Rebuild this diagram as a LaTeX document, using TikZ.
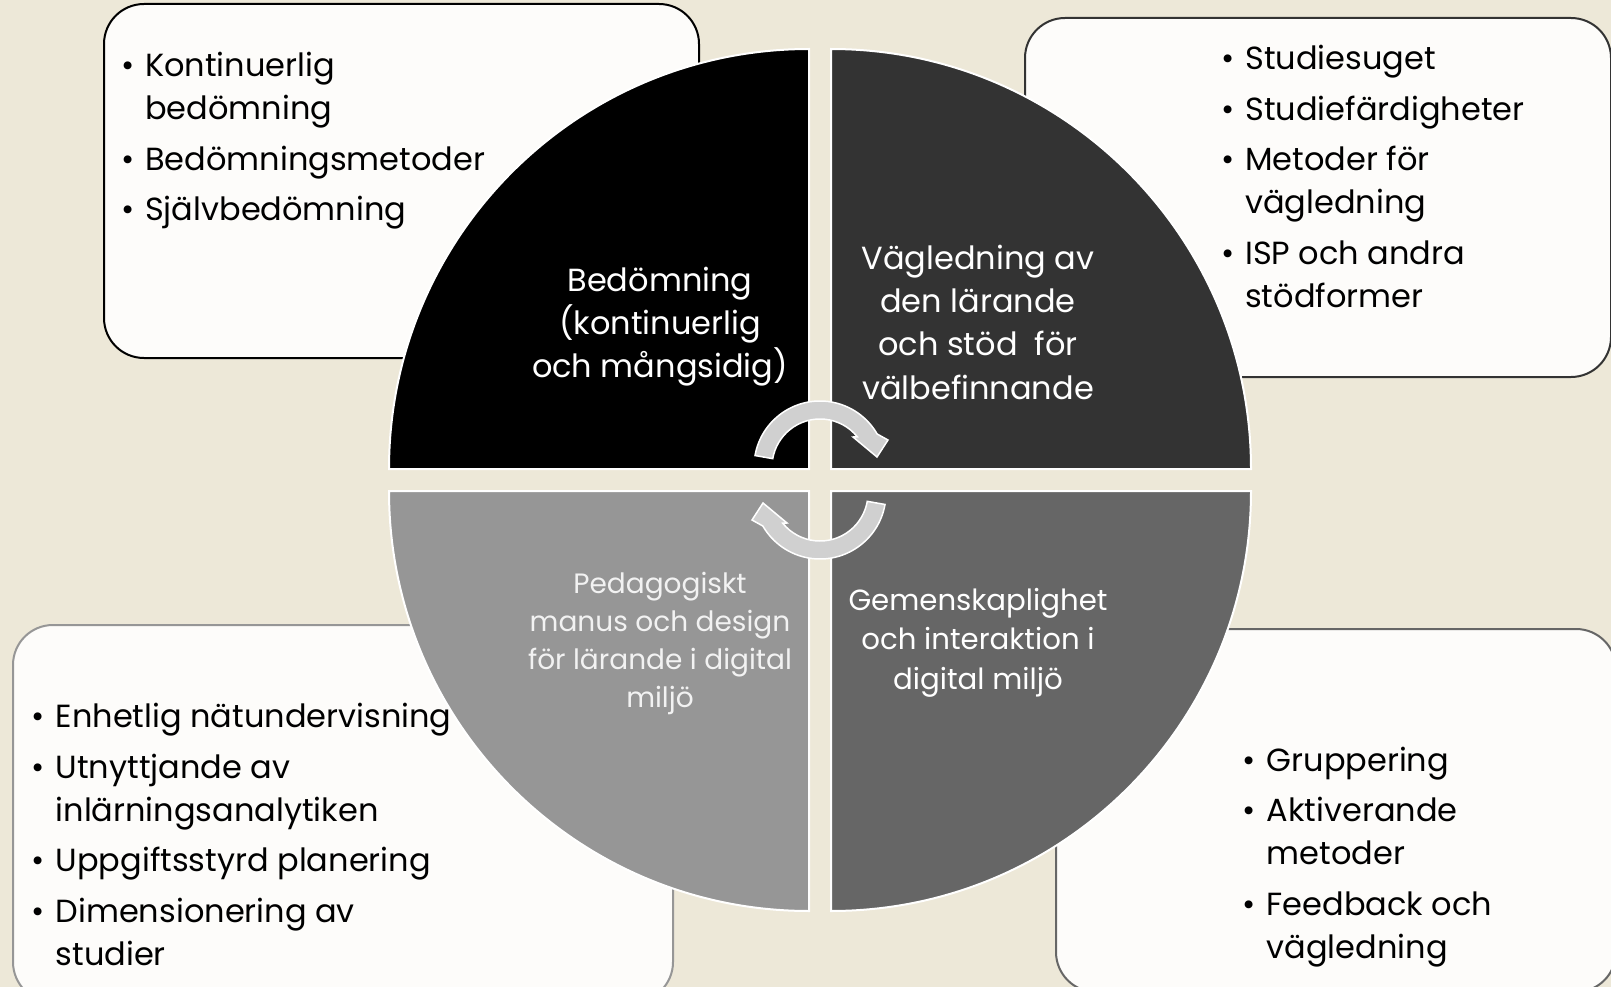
\documentclass[tikz,border=0pt]{standalone}
\usepackage{fontspec}
\setmainfont{Poppins}
\definecolor{bg}{RGB}{237,232,216}
\definecolor{boxfill}{RGB}{253,252,250}
\definecolor{qtr}{RGB}{51,51,51}
\definecolor{qbl}{RGB}{150,150,150}
\definecolor{qbr}{RGB}{102,102,102}
\definecolor{arrowfill}{RGB}{208,208,208}
\newcommand{\bp}{\makebox[24pt][l]{•}}
\newcommand{\ind}{\hspace*{24pt}}
\begin{document}
\begin{tikzpicture}[x=1pt,y=1pt,
  box/.style={fill=boxfill, rounded corners=40pt, line width=2pt},
  quad/.style={draw=white, line width=2pt},
  listtext/.style={inner sep=0pt, align=left, anchor=base west, text=black, font=\fontsize{32}{43}\selectfont},
  ctext/.style={inner sep=0pt, align=center, anchor=base, text=white},
  cyc/.style={fill=arrowfill, draw=white, line width=1.5pt}
]
\fill[bg] (0,0) rectangle (1611,-987);
\useasboundingbox (0,0) rectangle (1611,-987);

% boxes
\draw[box, draw=black] (104,-4) rectangle (699,-358);
\draw[box, draw=qtr] (1025,-18) rectangle (1611,-377);
\draw[box, draw=qbl] (13,-625) rectangle (673,-1002);
\draw[box, draw=qbr] (1056,-629) rectangle (1616,-992);

% quadrants
\filldraw[quad, fill=black] (809,-469) -- (389,-469) arc[start angle=180, end angle=90, radius=420] -- cycle;
\filldraw[quad, fill=qtr] (831,-469) -- (831,-49) arc[start angle=90, end angle=0, radius=420] -- cycle;
\filldraw[quad, fill=qbl] (809,-491) -- (389,-491) arc[start angle=180, end angle=270, radius=420] -- cycle;
\filldraw[quad, fill=qbr] (831,-491) -- (1251,-491) arc[start angle=0, end angle=-90, radius=420] -- cycle;

% cycle arrows
\filldraw[cyc] ([shift={(170:66)}]820,-467) arc[start angle=170, end angle=30, radius=66]
  -- (888,-440) -- (877,-457) -- (853,-437) -- ([shift={(39:48)}]820,-467)
  arc[start angle=39, end angle=170, radius=48] -- cycle;
\begin{scope}[rotate around={180:(820,-480)}]
\filldraw[cyc] ([shift={(170:66)}]820,-467) arc[start angle=170, end angle=30, radius=66]
  -- (888,-440) -- (877,-457) -- (853,-437) -- ([shift={(39:48)}]820,-467)
  arc[start angle=39, end angle=170, radius=48] -- cycle;
\end{scope}

% quadrant texts (anchor = baseline of last line)
\node[ctext, font=\fontsize{32}{43.2}\selectfont] (bedom) at (660,-377.5)
  {Bedömning\\(kontinuerlig\\och mångsidig)};
\node[ctext, font=\fontsize{32}{43.2}\selectfont] (vagled) at (978,-399)
  {Vägledning av\\den lärande\\och stöd~ för\\välbefinnande};
\node[ctext, font=\fontsize{28}{37.7}\selectfont, text=white!95!black] (pedag) at (660,-707)
  {Pedagogiskt\\manus och design\\för lärande i digital\\miljö};
\node[ctext, font=\fontsize{29.2}{39.5}\selectfont] (gemen) at (978,-689)
  {Gemenskaplighet\\och interaktion i\\digital miljö};

% lists (anchor = baseline of last line)
\node[listtext] (ltl) at (121,-221)
  {\bp Kontinuerlig\\ \ind bedömning\\[7.5pt] \bp Bedömningsmetoder\\[7.5pt] \bp Självbedömning};
\node[listtext] (ltr) at (1221,-307)
  {\bp Studiesuget\\[7.5pt] \bp Studiefärdigheter\\[7.5pt] \bp Metoder för\\ \ind vägledning\\[7.5pt] \bp ISP och andra\\ \ind stödformer};
\node[listtext] (lbl) at (31.5,-965)
  {\bp Enhetlig nätundervisning\\[7.5pt] \bp Utnyttjande av\\ \ind inlärningsanalytiken\\[7.5pt] \bp Uppgiftsstyrd planering\\[7.5pt] \bp Dimensionering av\\ \ind studier};
\node[listtext] (lbr) at (1242.5,-958)
  {\bp Gruppering\\[7.5pt] \bp Aktiverande\\ \ind metoder\\[7.5pt] \bp Feedback och\\ \ind vägledning};
\end{tikzpicture}
\end{document}
